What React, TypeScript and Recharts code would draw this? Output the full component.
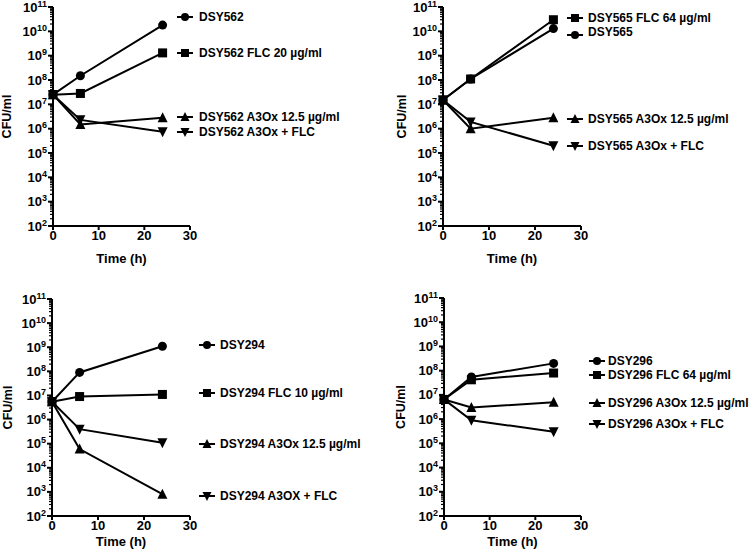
import { LineChart, Line, XAxis, YAxis } from 'recharts';

const times = [0, 6, 24];
const xTicks = [0, 10, 20, 30];
const majorTicks = [1e2, 1e3, 1e4, 1e5, 1e6, 1e7, 1e8, 1e9, 1e10, 1e11];
const minorSteps = [2, 3, 4, 5, 6, 7, 8, 9];

// DSY562
const dsy562 = [2.5e7, 1.5e8, 1.8e10];
const dsy562Flc = [2.5e7, 2.8e7, 1.3e9];
const dsy562A3ox = [2.5e7, 1.5e6, 2.8e6];
const dsy562Combo = [2.5e7, 2.3e6, 7.5e5];

// DSY565
const dsy565Flc = [1.5e7, 1.1e8, 3.0e10];
const dsy565 = [1.5e7, 1.1e8, 1.3e10];
const dsy565A3ox = [1.5e7, 1.0e6, 2.8e6];
const dsy565Combo = [1.5e7, 1.9e6, 2.0e5];

// DSY294
const dsy294 = [5.5e6, 9e7, 1.1e9];
const dsy294Flc = [5.5e6, 9e6, 1.1e7];
const dsy294A3ox = [5.5e6, 6e4, 8e2];
const dsy294Combo = [5.5e6, 4e5, 1.1e5];

// DSY296
const dsy296 = [6.5e6, 5.5e7, 2e8];
const dsy296Flc = [6.5e6, 4.2e7, 8e7];
const dsy296A3ox = [6.5e6, 3e6, 5e6];
const dsy296Combo = [6.5e6, 9e5, 3e5];

const yTicks = [
  ...majorTicks,
  ...majorTicks.slice(0, -1).flatMap((m) => minorSteps.map((k) => k * m)),
].sort((a, b) => a - b);

type Shape = 'circle' | 'square' | 'up' | 'down';

interface Series {
  label: string;
  values: number[];
  shape: Shape;
  legendY: number;
  textY?: number;
}

interface Panel {
  left: number;
  top: number;
  plot: { left: number; right: number; top: number; bottom: number };
  yLabelOffset: number;
  xLabelOffset: number;
  markerX: number;
  textX: number;
  series: Series[];
}

const panels: Panel[] = [
  {
    left: 0,
    top: 0,
    plot: { left: 53, right: 190, top: 7, bottom: 226 },
    yLabelOffset: 7,
    xLabelOffset: 16,
    markerX: 185,
    textX: 199,
    series: [
      { label: 'DSY562', values: dsy562, shape: 'circle', legendY: 17 },
      { label: 'DSY562 FLC 20 µg/ml', values: dsy562Flc, shape: 'square', legendY: 53 },
      { label: 'DSY562 A3Ox 12.5 µg/ml', values: dsy562A3ox, shape: 'up', legendY: 117 },
      { label: 'DSY562 A3Ox + FLC', values: dsy562Combo, shape: 'down', legendY: 132 },
    ],
  },
  {
    left: 375,
    top: 0,
    plot: { left: 68, right: 206, top: 7, bottom: 226 },
    yLabelOffset: 27,
    xLabelOffset: 16,
    markerX: 200,
    textX: 213,
    series: [
      { label: 'DSY565 FLC 64 µg/ml', values: dsy565Flc, shape: 'square', legendY: 18 },
      { label: 'DSY565', values: dsy565, shape: 'circle', legendY: 35, textY: 32 },
      { label: 'DSY565 A3Ox 12.5 µg/ml', values: dsy565A3ox, shape: 'up', legendY: 119 },
      { label: 'DSY565 A3Ox + FLC', values: dsy565Combo, shape: 'down', legendY: 146 },
    ],
  },
  {
    left: 0,
    top: 279,
    plot: { left: 52, right: 190, top: 20, bottom: 237 },
    yLabelOffset: 8,
    xLabelOffset: 12,
    markerX: 207,
    textX: 220,
    series: [
      { label: 'DSY294', values: dsy294, shape: 'circle', legendY: 66 },
      { label: 'DSY294 FLC 10 µg/ml', values: dsy294Flc, shape: 'square', legendY: 114 },
      { label: 'DSY294 A3Ox 12.5 µg/ml', values: dsy294A3ox, shape: 'up', legendY: 165 },
      { label: 'DSY294 A3OX + FLC', values: dsy294Combo, shape: 'down', legendY: 217 },
    ],
  },
  {
    left: 375,
    top: 279,
    plot: { left: 69, right: 206, top: 19, bottom: 237 },
    yLabelOffset: 26,
    xLabelOffset: 12,
    markerX: 222,
    textX: 233,
    series: [
      { label: 'DSY296', values: dsy296, shape: 'circle', legendY: 82 },
      { label: 'DSY296 FLC 64 µg/ml', values: dsy296Flc, shape: 'square', legendY: 96 },
      { label: 'DSY296 A3Ox 12.5 µg/ml', values: dsy296A3ox, shape: 'up', legendY: 124 },
      { label: 'DSY296 A3Ox + FLC', values: dsy296Combo, shape: 'down', legendY: 145 },
    ],
  },
];

const PW = 375;
const PH = 279;

const Marker = ({ shape, cx, cy, s }: { shape: Shape; cx: number; cy: number; s: number }) => {
  const h = s / 2;
  switch (shape) {
    case 'circle':
      return <circle cx={cx} cy={cy} r={h} fill="#000" />;
    case 'square':
      return <rect x={cx - h} y={cy - h} width={s} height={s} fill="#000" />;
    case 'up':
      return (
        <polygon
          points={`${cx},${cy - h - 1} ${cx + h + 0.5},${cy + h} ${cx - h - 0.5},${cy + h}`}
          fill="#000"
        />
      );
    default:
      return (
        <polygon
          points={`${cx},${cy + h + 1} ${cx + h + 0.5},${cy - h} ${cx - h - 0.5},${cy - h}`}
          fill="#000"
        />
      );
  }
};

const YTick = (props: any) => {
  const { x, y, payload } = props;
  const v = payload.value;
  const exp = Math.round(Math.log10(v));
  const major = Math.abs(v - Math.pow(10, exp)) < 1e-6 * v;
  return (
    <g>
      <line
        x1={x - (major ? 5 : 3)}
        x2={x}
        y1={y}
        y2={y}
        stroke="#000"
        strokeWidth={major ? 2 : 1.2}
      />
      {major && (
        <text x={x - 6} y={y} dy={4.5} textAnchor="end" fontSize={13} fontWeight="bold" fill="#000">
          10
          <tspan dy={-5} fontSize={9}>
            {exp}
          </tspan>
        </text>
      )}
    </g>
  );
};

const ChartPanel = ({ panel }: { panel: Panel }) => {
  const data = times.map((t, i) => {
    const row: Record<string, number> = { t };
    panel.series.forEach((s, j) => {
      row['s' + j] = s.values[i];
    });
    return row;
  });
  const { plot } = panel;

  return (
    <div style={{ position: 'absolute', left: panel.left, top: panel.top, width: PW, height: PH }}>
      <LineChart
        width={PW}
        height={PH}
        data={data}
        margin={{ top: plot.top, right: PW - plot.right, left: 0, bottom: 0 }}
      >
        <XAxis
          dataKey="t"
          type="number"
          domain={[0, 30]}
          ticks={xTicks}
          height={PH - plot.bottom}
          axisLine={{ stroke: '#000', strokeWidth: 2 }}
          tickLine={{ stroke: '#000', strokeWidth: 2 }}
          tickSize={4}
          tickMargin={1}
          tick={{ fill: '#000', fontSize: 13, fontWeight: 'bold' }}
          label={{
            value: 'Time (h)',
            position: 'insideBottom',
            offset: panel.xLabelOffset,
            fill: '#000',
            fontSize: 13,
            fontWeight: 'bold',
          }}
        />
        <YAxis
          scale="log"
          type="number"
          domain={[1e2, 1e11]}
          allowDataOverflow
          ticks={yTicks}
          interval={0}
          width={plot.left}
          axisLine={{ stroke: '#000', strokeWidth: 2 }}
          tickLine={false}
          tickSize={0}
          tickMargin={0}
          tick={<YTick />}
          label={{
            value: 'CFU/ml',
            angle: -90,
            position: 'insideLeft',
            offset: panel.yLabelOffset,
            fill: '#000',
            fontSize: 12.5,
            fontWeight: 'bold',
            style: { textAnchor: 'middle' },
          }}
        />
        {panel.series.map((s, j) => (
          <Line
            key={s.label}
            dataKey={'s' + j}
            type="linear"
            stroke="#000"
            strokeWidth={2}
            isAnimationActive={false}
            dot={(p: any) => (
              <Marker key={`${s.label}-${p.index}`} shape={s.shape} cx={p.cx} cy={p.cy} s={9} />
            )}
            activeDot={false}
          />
        ))}
      </LineChart>
      {panel.series.map((s) => (
        <div key={s.label}>
          <svg
            width={18}
            height={14}
            style={{ position: 'absolute', left: panel.markerX - 9, top: s.legendY - 7 }}
          >
            <line x1={1} x2={17} y1={7} y2={7} stroke="#000" strokeWidth={2} />
            <Marker shape={s.shape} cx={9} cy={7} s={8} />
          </svg>
          <div
            style={{
              position: 'absolute',
              left: panel.textX,
              top: (s.textY ?? s.legendY) - 6,
              lineHeight: '12px',
              fontSize: 12,
              fontWeight: 'bold',
              whiteSpace: 'nowrap',
              color: '#000',
            }}
          >
            {s.label}
          </div>
        </div>
      ))}
    </div>
  );
}

export default function App() {
  return (
    <div
      style={{
        position: 'absolute',
        left: 0,
        top: 0,
        width: 750,
        height: 558,
        background: '#fff',
        fontFamily: '"Liberation Sans", Arial, sans-serif',
        fontWeight: 'bold',
      }}
    >
      {panels.map((p, i) => (
        <ChartPanel key={i} panel={p} />
      ))}
    </div>
  );
}
